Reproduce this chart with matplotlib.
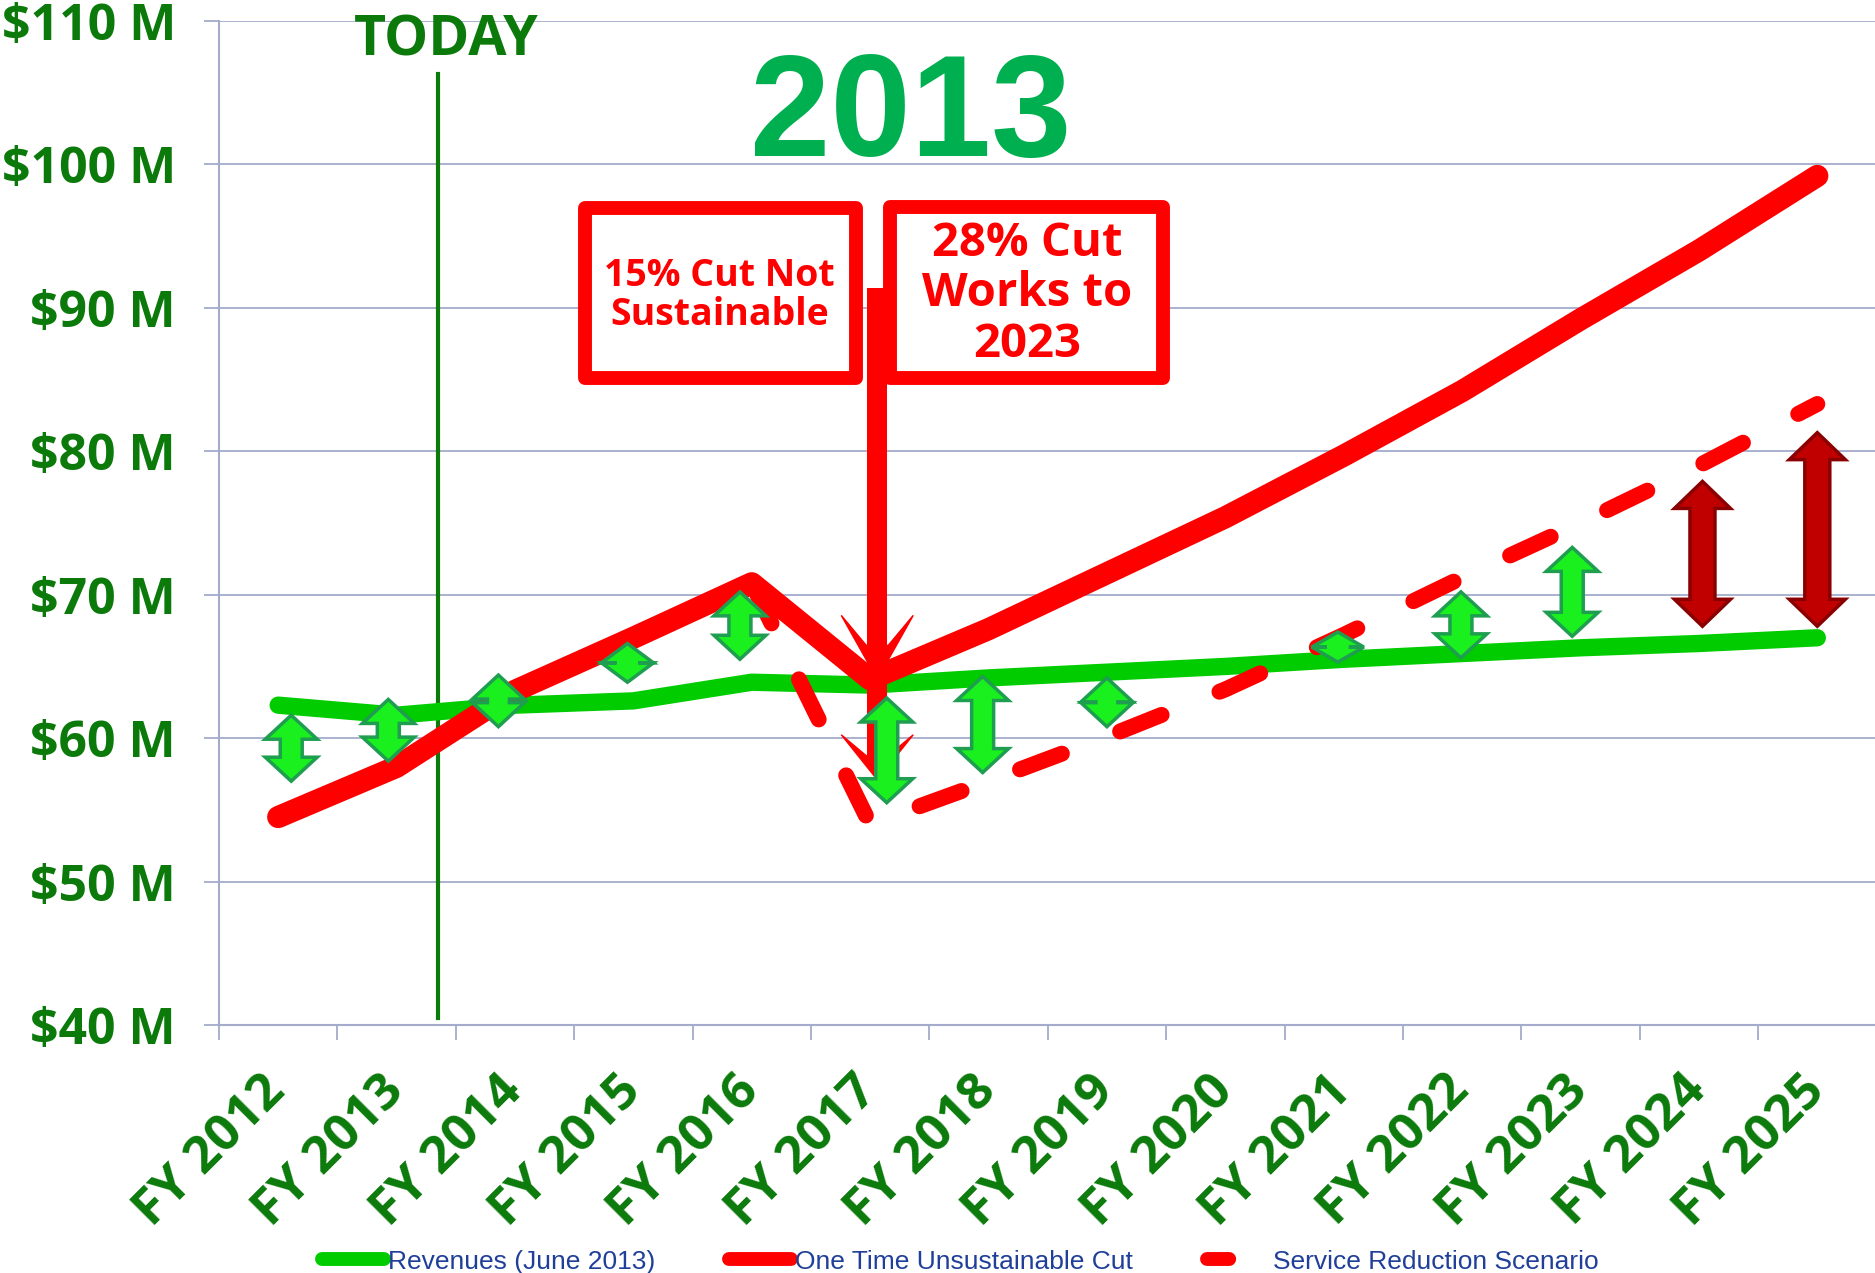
import numpy as np
import matplotlib.pyplot as plt
from matplotlib.patches import Polygon, Rectangle
from matplotlib.lines import Line2D

# ---- data ($ millions) ----
years = ["FY 2012", "FY 2013", "FY 2014", "FY 2015", "FY 2016", "FY 2017", "FY 2018",
         "FY 2019", "FY 2020", "FY 2021", "FY 2022", "FY 2023", "FY 2024", "FY 2025"]
revenues = [62.3, 61.6, 62.3, 62.6, 63.9, 63.7, 64.2, 64.6, 65.0, 65.5, 65.9, 66.3, 66.6, 67.0]
one_time_cut = [54.5, 58.0, 63.3, 67.0, 70.8, 64.1, 67.6, 71.5, 75.4, 79.7, 84.2, 89.2, 94.0, 99.2]
service_reduction = [np.nan, np.nan, np.nan, np.nan, 70.8, 54.0, 57.0, 60.1, 63.4, 67.2,
                     71.2, 75.0, 79.0, 83.3]

# gap arrows: position (in category units), bottom and top value, colour kind
arrow_x = [0.11, 0.93, 1.86, 2.95, 3.90, 5.14, 5.95, 7.00, 8.95, 9.99, 10.93, 12.03, 13.0]
arrow_lo = [57.0, 58.4, 60.8, 63.9, 65.5, 55.5, 57.6, 60.8, 65.3, 65.6, 67.1, 67.8, 67.8]
arrow_hi = [61.6, 62.7, 64.4, 66.6, 70.2, 62.8, 64.3, 64.2, 67.4, 70.2, 73.3, 77.9, 81.3]
arrow_kind = ["g"] * 11 + ["r", "r"]

today_x = 1.35
cut_arrow_x = 5.06
cut_arrow_top = 91.4
cut_arrow_tips = [64.1, 57.1]

DARK_GREEN = "#0b7a0b"
GRID = "#a4abcb"
RED = "#ff0000"
BOLD_FONT = "Open Sans"

plt.rcParams["font.family"] = "DejaVu Sans"

fig = plt.figure(figsize=(18.75, 12.73), dpi=100)
ax = fig.add_axes([0.1168, 0.1948, 0.884, 0.7887])
ax.set_xlim(-0.5, 13.5)
ax.set_ylim(40, 110)

x = np.arange(len(years))


def px(dx, dy):
    """convert a pixel offset to data units"""
    inv = ax.transData.inverted()
    p0 = inv.transform((0, 0))
    p1 = inv.transform((dx, dy))
    return p1 - p0


# grid and axes styling
ax.set_yticks(range(40, 111, 10))
ax.set_yticklabels([f"${v} M" for v in range(40, 111, 10)])
ax.set_xticks(x)
ax.set_xticklabels(years, rotation=45, ha="right", va="center", rotation_mode="anchor")
ax.set_xticks(np.arange(-0.5, 14, 1), minor=True)
ax.grid(axis="y", color=GRID, lw=1.3, zorder=0)
ax.set_axisbelow(True)
for s in ["top", "right"]:
    ax.spines[s].set_visible(False)
for s in ["left", "bottom"]:
    ax.spines[s].set_color(GRID)
    ax.spines[s].set_linewidth(1.5)
ax.tick_params(axis="y", length=11, width=1.3, color=GRID, pad=20,
               labelsize=36, labelcolor=DARK_GREEN)
ax.tick_params(axis="x", which="major", length=0, pad=42, labelsize=37, labelcolor=DARK_GREEN)
ax.tick_params(axis="x", which="minor", length=11, width=1.3, color=GRID)
for lab in ax.get_xticklabels() + ax.get_yticklabels():
    lab.set_fontweight("bold")
    lab.set_family(BOLD_FONT)

# series
ax.plot(x, revenues, color="#00cc00", lw=12.5, solid_capstyle="round",
        solid_joinstyle="round", zorder=3)
dash_line, = ax.plot(x, service_reduction, color=RED, lw=11.5, dash_capstyle="round",
                     dash_joinstyle="round", zorder=3.5)
dash_line.set_dashes((2.8, 3.9))
ax.plot(x, one_time_cut, color=RED, lw=16, solid_capstyle="round",
        solid_joinstyle="round", zorder=4)

# TODAY marker
ax.plot([today_x, today_x], [40.5, 106.3], color=DARK_GREEN, lw=3, zorder=2)
ax.text(1.42, 108.6, "TODAY", color=DARK_GREEN, fontsize=40, fontweight="bold",
        family=BOLD_FONT, ha="center", va="center", zorder=7)

# big year title
ax.text(5.34, 100.6, "2013", color="#00b050", fontsize=104, fontweight="bold",
        family="Liberation Sans", ha="center", va="baseline", zorder=7)

# callout boxes
ax.add_patch(Rectangle((2.591, 85.12), 4.88 - 2.591, 96.97 - 85.12, fc="white", ec=RED,
                       lw=10, joinstyle="round", zorder=5))
ax.add_patch(Rectangle((5.167, 85.12), 7.473 - 5.167, 97.04 - 85.12, fc="white", ec=RED,
                       lw=10, joinstyle="round", zorder=5))
ax.text(3.73, 90.85, "15% Cut Not\nSustainable", color=RED, fontsize=27, fontweight="bold",
        family=BOLD_FONT, ha="center", va="center", linespacing=1.03, zorder=6)
ax.text(6.33, 90.98, "28% Cut\nWorks to\n2023", color=RED, fontsize=34, fontweight="bold",
        family=BOLD_FONT, ha="center", va="center", linespacing=1.1, zorder=6)

# the pointer arrow from the boxes down to the cut
ax.plot([cut_arrow_x, cut_arrow_x], [cut_arrow_top, cut_arrow_tips[1] + px(0, 20)[1]],
        color=RED, lw=14.4, solid_capstyle="butt", zorder=5)
for tip, back, notch in [(cut_arrow_tips[0], 64, 34), (cut_arrow_tips[1], 45, 24)]:
    hw = px(36, 0)[0]
    sw = px(11, 0)[0]
    b = px(0, back)[1]
    n = px(0, notch)[1]
    pts = [(cut_arrow_x, tip), (cut_arrow_x + hw, tip + b), (cut_arrow_x + sw, tip + n),
           (cut_arrow_x - sw, tip + n), (cut_arrow_x - hw, tip + b)]
    ax.add_patch(Polygon(pts, closed=True, fc=RED, ec=RED, lw=1, zorder=5))


def double_arrow(xc, lo, hi, shaft, head_w, head_l, face, edge):
    sw = px(shaft / 2, 0)[0]
    hw = px(head_w / 2, 0)[0]
    hl = min(px(0, head_l)[1], (hi - lo) / 2)
    pts = [(xc, hi), (xc + hw, hi - hl), (xc + sw, hi - hl), (xc + sw, lo + hl),
           (xc + hw, lo + hl), (xc, lo), (xc - hw, lo + hl), (xc - sw, lo + hl),
           (xc - sw, hi - hl), (xc - hw, hi - hl)]
    ax.add_patch(Polygon(pts, closed=True, fc=face, ec=edge, lw=2.5,
                         joinstyle="miter", zorder=6))


for xa, lo, hi, kind in zip(arrow_x, arrow_lo, arrow_hi, arrow_kind):
    if kind == "g":
        double_arrow(xa, lo, hi, 22, 52, 24, "#19f01e", "#1f9d50")
    else:
        double_arrow(xa, lo, hi, 25, 56, 27, "#c00000", "#8a0000")

# legend
handles = [
    Line2D([], [], color="#00cc00", lw=10, solid_capstyle="round"),
    Line2D([], [], color=RED, lw=10, solid_capstyle="round"),
    Line2D([], [], color=RED, lw=10, linestyle=(0, (1.6, 10)), dash_capstyle="round"),
]
labels = ["Revenues (June 2013)", "One Time Unsustainable Cut", "Service Reduction Scenario"]
fig.legend(handles, labels, loc="center", bbox_to_anchor=(0.512, 0.009), ncol=3,
           frameon=False, prop={"family": "Liberation Sans", "size": 19},
           handlelength=2.35, handletextpad=0.15, columnspacing=2.8, labelcolor="#1f3f99")

fig.savefig("out.png", dpi=100)
